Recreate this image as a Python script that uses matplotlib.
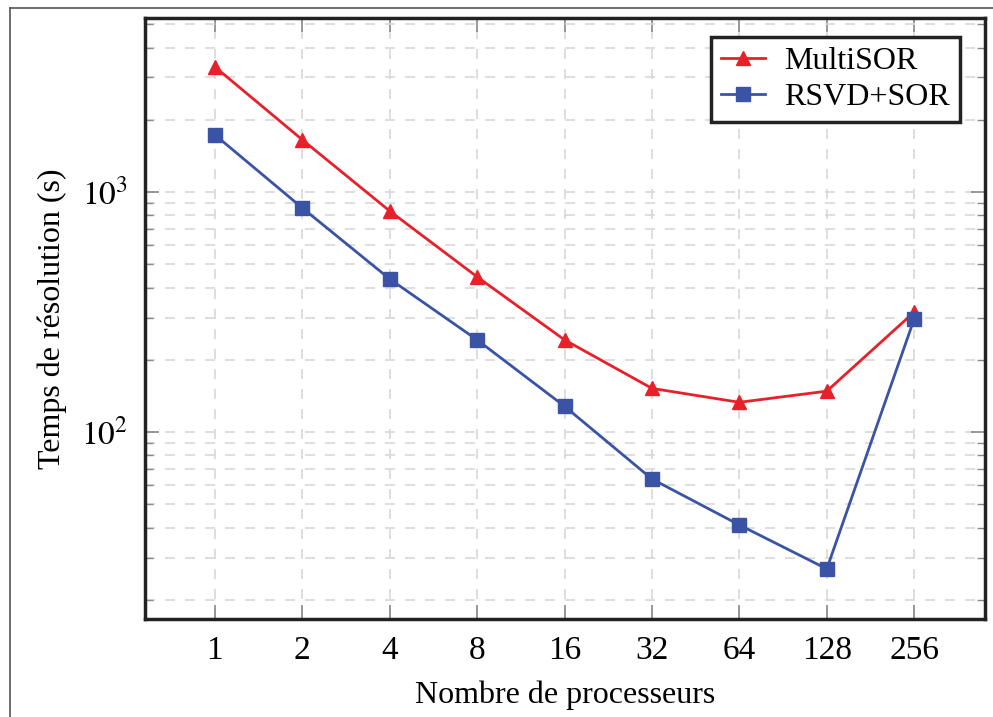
import matplotlib
matplotlib.use("Agg")
import matplotlib.pyplot as plt
from matplotlib.ticker import FixedLocator, NullFormatter, LogLocator
from matplotlib.lines import Line2D

processors = [1, 2, 4, 8, 16, 32, 64, 128, 256]
multisor = [3320, 1650, 833, 443, 242, 152, 133, 148, 316]
rsvd_sor = [1730, 858, 434, 242, 128, 63.7, 41, 26.9, 296]
xtick_labels = ["1", "2", "4", "8", "16", "32", "64", "128", "256"]

plt.rcParams['font.family'] = ['Liberation Serif', 'DejaVu Serif']
plt.rcParams['mathtext.fontset'] = 'stix'

fig = plt.figure(figsize=(9.93, 7.17), dpi=100)
ax = fig.add_axes([145/993, 1 - 619/717, (985-145)/993, (619-18)/717])

red = '#e8202a'
blue = '#3a53a4'

ax.plot(processors, multisor, color=red, lw=2, marker='^', ms=10, label='MultiSOR', zorder=3)
ax.plot(processors, rsvd_sor, color=blue, lw=2, marker='s', ms=10, label='RSVD+SOR', zorder=3)

ax.set_xscale('log', base=2)
ax.set_yscale('log')
ax.set_xlim(2**-0.8, 2**8.81)
ax.set_ylim(10**1.221, 10**3.725)

ax.xaxis.set_major_locator(FixedLocator(processors))
ax.set_xticklabels(xtick_labels)
ax.xaxis.set_minor_locator(FixedLocator([]))
ax.yaxis.set_major_locator(FixedLocator([100, 1000]))
ax.set_yticklabels([r'$10^2$', r'$10^3$'])
ax.yaxis.set_minor_locator(LogLocator(base=10, subs=range(2, 10)))
ax.yaxis.set_minor_formatter(NullFormatter())

ax.tick_params(which='both', direction='in', top=True, right=True, color='#888888')
ax.tick_params(which='major', length=10, width=1.2, labelsize=24, pad=12)
ax.tick_params(which='minor', length=6, width=1.0)

ax.grid(True, which='major', axis='both', color='#d8d8d8', linestyle=(0, (6, 6)), lw=1.2)
ax.grid(True, which='minor', axis='y', color='#d8d8d8', linestyle=(0, (6, 6)), lw=1.2)
ax.set_axisbelow(True)

for s in ax.spines.values():
    s.set_linewidth(2.5)
    s.set_color('#222222')

ax.set_xlabel('Nombre de processeurs', fontsize=23, labelpad=10)
ax.set_ylabel('Temps de résolution (s)', fontsize=23, labelpad=10)

leg = ax.legend(loc='upper right', fontsize=23, frameon=True, fancybox=False,
                edgecolor='#222222', framealpha=1, borderpad=0.3, handlelength=1.4,
                handletextpad=0.6, labelspacing=0.2, borderaxespad=0,
                bbox_to_anchor=(0.97, 0.968))
leg.get_frame().set_linewidth(2.5)

# outer border (left and top)
fig.add_artist(Line2D([10/993, 10/993], [0, 1 - 8/717], transform=fig.transFigure, color='#555555', lw=1.2))
fig.add_artist(Line2D([10/993, 1], [1 - 8/717, 1 - 8/717], transform=fig.transFigure, color='#555555', lw=1.2))

fig.savefig('out.png', dpi=100)
